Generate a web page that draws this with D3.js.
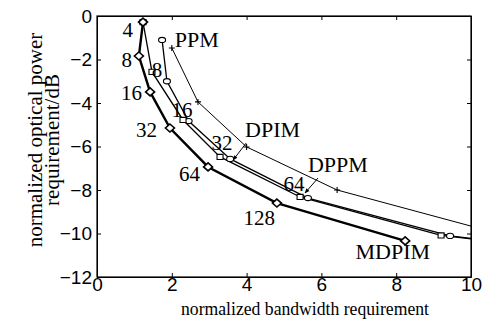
<!DOCTYPE html>
<html>
<head>
<meta charset="utf-8">
<script src="https://cdn.jsdelivr.net/npm/d3@7"></script>
<style>
  body { margin: 0; background: #fff; }
  svg { display: block; font-family: "Liberation Serif", "Times New Roman", serif; }
  .axis path, .axis line { stroke: #000; }
  .axis text { font-size: 19px; fill: #000; }
</style>
</head>
<body>
<svg id="chart"></svg>
<script>
// data
var xTicks = [0, 2, 4, 6, 8, 10];
var yTicks = [0, -2, -4, -6, -8, -10, -12];

var ppmL = [4, 8, 16, 32, 64];
var ppmBw = [2.0, 2.7, 4.0, 6.42, 10.67];
var ppmPow = [-1.47, -3.95, -6.02, -8.0, -9.97];

var dpimL = [4, 8, 16, 32, 64, 128, 256];
var dpimBw = [1.74, 1.87, 2.45, 3.56, 5.64, 9.44, 16.2];
var dpimPow = [-1.1, -3.0, -4.83, -6.57, -8.37, -10.11, -11.5];

var dppmL = [4, 8, 16, 32, 64, 128, 256];
var dppmBw = [1.23, 1.47, 2.3, 3.29, 5.43, 9.2, 16.06];
var dppmPow = [-0.28, -2.57, -4.78, -6.48, -8.32, -10.09, -11.45];

var mdpimL = [4, 8, 16, 32, 64, 128, 256];
var mdpimBw = [1.23, 1.12, 1.42, 1.95, 2.97, 4.81, 8.24];
var mdpimPow = [-0.28, -1.84, -3.49, -5.15, -6.94, -8.6, -10.34];

var margin = { top: 16, right: 15, bottom: 47, left: 97 },
  width = 486 - margin.left - margin.right,
  height = 324 - margin.top - margin.bottom;

var xScale = d3.scaleLinear().domain([0, 10]).range([0, width]);
var yScale = d3.scaleLinear().domain([-12, 0]).range([height, 0]);

var fmt = function(d) { return d < 0 ? "\u2212" + Math.abs(d) : "" + d; };

var svg = d3.select("#chart")
  .attr("width", 486)
  .attr("height", 324);

svg.append("defs").append("clipPath").attr("id", "clip")
  .append("rect").attr("width", width).attr("height", height);

svg.select("defs").append("marker")
  .attr("id", "arrow")
  .attr("viewBox", "0 0 10 10")
  .attr("refX", 9).attr("refY", 5)
  .attr("markerWidth", 5).attr("markerHeight", 5)
  .attr("orient", "auto")
  .append("path").attr("d", "M0,1L10,5L0,9Z").attr("fill", "#000");

var g = svg.append("g")
  .attr("transform", "translate(" + margin.left + "," + margin.top + ")");

// axes, ticks inward
g.append("g").attr("class", "axis")
  .attr("transform", "translate(0," + height + ")")
  .call(d3.axisBottom(xScale).tickValues(xTicks).tickSizeInner(-4).tickSizeOuter(0).tickPadding(0).tickFormat(fmt));
g.append("g").attr("class", "axis")
  .call(d3.axisLeft(yScale).tickValues(yTicks).tickSizeInner(-4).tickSizeOuter(0).tickPadding(5).tickFormat(fmt));
g.append("g").attr("class", "axis")
  .attr("transform", "translate(" + width + ",0)")
  .call(d3.axisRight(yScale).tickValues(yTicks).tickSizeInner(-4).tickSizeOuter(0).tickFormat(""));
g.append("g").attr("class", "axis")
  .call(d3.axisTop(xScale).tickValues(xTicks).tickSizeInner(-4).tickSizeOuter(0).tickFormat(""));

g.append("rect")
  .attr("width", width).attr("height", height)
  .attr("fill", "none").attr("stroke", "#000").attr("stroke-width", 1.2);

function pts(bw, pow, L) {
  return bw.map(function(b, i) { return { x: b, y: pow[i], L: L[i] }; });
}

var series = [
  { name: "PPM", data: pts(ppmBw, ppmPow, ppmL), lw: 1, mark: "plus" },
  { name: "DPIM", data: pts(dpimBw, dpimPow, dpimL), lw: 1.3, mark: "circle" },
  { name: "DPPM", data: pts(dppmBw, dppmPow, dppmL), lw: 1.3, mark: "square" },
  { name: "MDPIM", data: pts(mdpimBw, mdpimPow, mdpimL), lw: 2.4, mark: "diamond" }
];

var line = d3.line()
  .x(function(d) { return xScale(d.x); })
  .y(function(d) { return yScale(d.y); });

var plot = g.append("g").attr("clip-path", "url(#clip)");

plot.selectAll(".series")
  .data(series)
  .enter()
  .append("path")
  .attr("d", function(d) { return line(d.data); })
  .attr("fill", "none")
  .attr("stroke", "#000")
  .attr("stroke-width", function(d) { return d.lw; });

var symbols = {
  plus: "M-3,0H3M0,-3V3",
  circle: "M-3.5,0A3.5,2.6 0 1,0 3.5,0A3.5,2.6 0 1,0 -3.5,0Z",
  square: "M-3,-2.6H3V2.6H-3Z",
  diamond: "M0,-4L4.5,0L0,4L-4.5,0Z"
};

series.forEach(function(s) {
  plot.selectAll(".m-" + s.name)
    .data(s.data)
    .enter()
    .append("path")
    .attr("transform", function(d) { return "translate(" + xScale(d.x) + "," + yScale(d.y) + ")"; })
    .attr("d", symbols[s.mark])
    .attr("fill", s.mark === "plus" ? "none" : "#fff")
    .attr("stroke", "#000")
    .attr("stroke-width", s.mark === "diamond" ? 1.6 : 1.1);
});

// L value labels (offsets in px from the marker)
var mdpimLabels = [
  { i: 0, dx: -10, dy: 15 }, { i: 1, dx: -7, dy: 11 }, { i: 2, dx: -8, dy: 8 },
  { i: 3, dx: -13, dy: 9 }, { i: 4, dx: -8, dy: 14 }, { i: 5, dx: -2, dy: 22 }
];
var dppmLabels = [
  { i: 1, dx: 5, dy: 5 }, { i: 2, dx: -1, dy: -3 }, { i: 3, dx: 2, dy: -7 }, { i: 4, dx: -6, dy: -6 }
];

g.selectAll(".lab-m")
  .data(mdpimLabels)
  .enter()
  .append("text")
  .attr("x", function(d) { return xScale(mdpimBw[d.i]) + d.dx; })
  .attr("y", function(d) { return yScale(mdpimPow[d.i]) + d.dy; })
  .attr("text-anchor", "end")
  .attr("font-size", 21)
  .text(function(d) { return mdpimL[d.i]; });

g.selectAll(".lab-d")
  .data(dppmLabels)
  .enter()
  .append("text")
  .attr("x", function(d) { return xScale(dppmBw[d.i]) + d.dx; })
  .attr("y", function(d) { return yScale(dppmPow[d.i]) + d.dy; })
  .attr("text-anchor", "middle")
  .attr("font-size", 21)
  .text(function(d) { return dppmL[d.i]; });

// series names
var names = [
  { t: "PPM", x: 2.08, y: -1.43, anchor: "start" },
  { t: "DPIM", x: 3.96, y: -5.56, anchor: "start", ax: [3.99, -5.84, 3.64, -6.62] },
  { t: "DPPM", x: 5.64, y: -7.17, anchor: "start", ax: [5.91, -7.45, 5.56, -8.14] },
  { t: "MDPIM", x: 7.91, y: -11.17, anchor: "middle" }
];

g.selectAll(".name")
  .data(names)
  .enter()
  .append("text")
  .attr("x", function(d) { return xScale(d.x); })
  .attr("y", function(d) { return yScale(d.y); })
  .attr("text-anchor", function(d) { return d.anchor; })
  .attr("font-size", 22)
  .text(function(d) { return d.t; });

g.selectAll(".arr")
  .data(names.filter(function(d) { return d.ax; }))
  .enter()
  .append("line")
  .attr("x1", function(d) { return xScale(d.ax[0]); })
  .attr("y1", function(d) { return yScale(d.ax[1]); })
  .attr("x2", function(d) { return xScale(d.ax[2]); })
  .attr("y2", function(d) { return yScale(d.ax[3]); })
  .attr("stroke", "#000")
  .attr("stroke-width", 1)
  .attr("marker-end", "url(#arrow)");

// axis titles
svg.append("text")
  .attr("x", 305).attr("y", 315)
  .attr("text-anchor", "middle")
  .attr("font-size", 19)
  .attr("textLength", 248)
  .attr("lengthAdjust", "spacingAndGlyphs")
  .text("normalized bandwidth requirement");

var yt = svg.append("text")
  .attr("transform", "translate(42,140) rotate(-90)")
  .attr("text-anchor", "middle")
  .attr("font-size", 21);
yt.append("tspan").attr("x", 0).attr("y", 0).text("normalized optical power");
yt.append("tspan").attr("x", 0).attr("y", 17).text("requirement/dB");
</script>
</body>
</html>
